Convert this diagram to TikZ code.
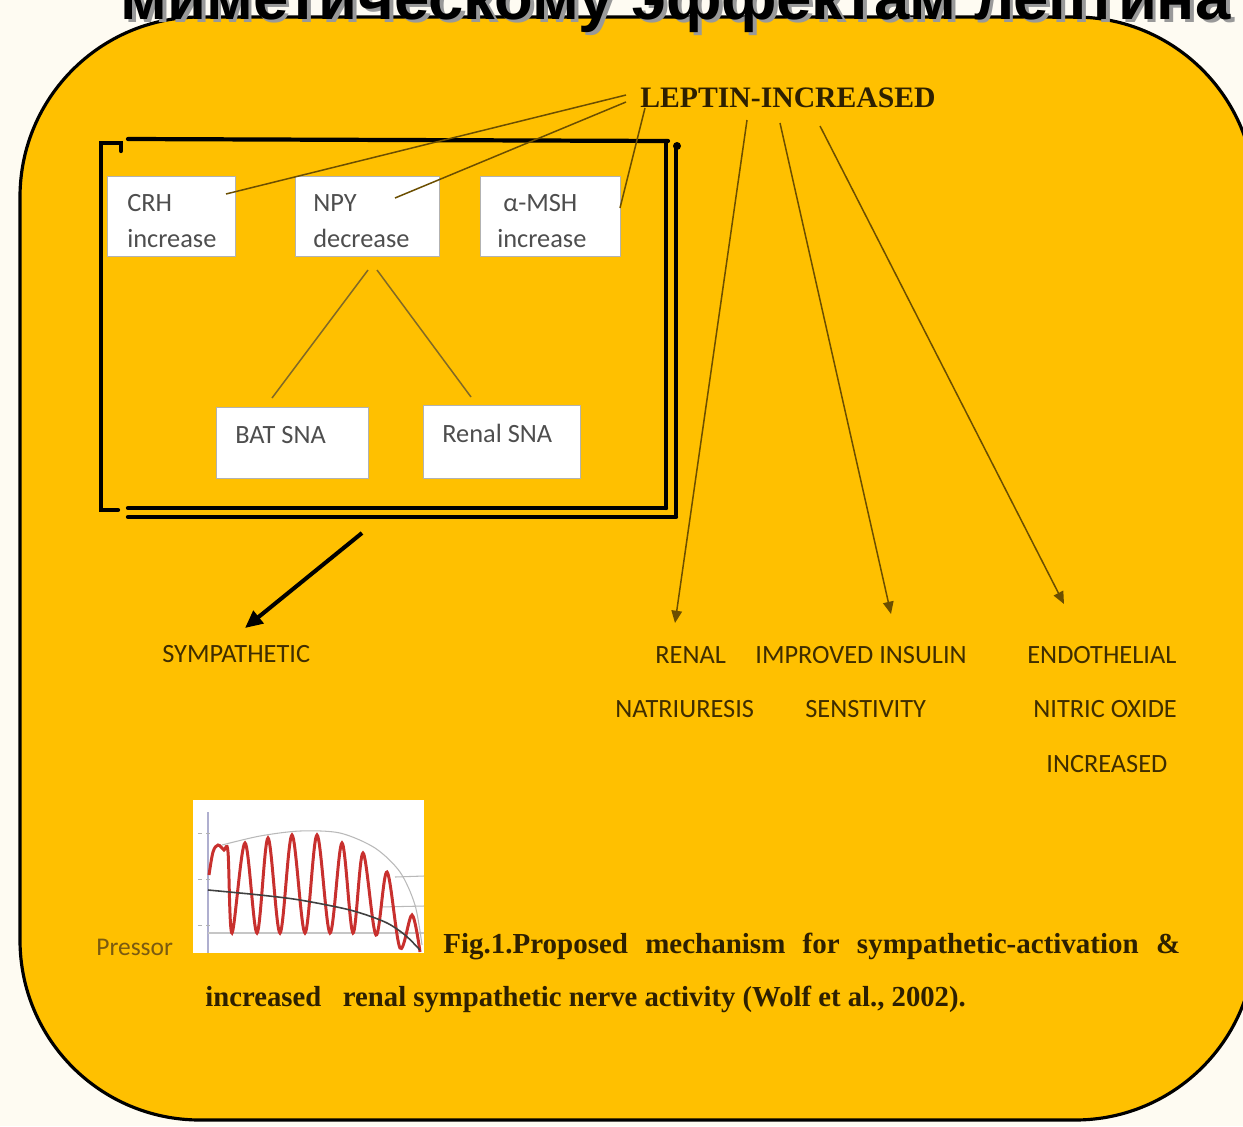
\documentclass[tikz,border=0pt]{standalone}
\usepackage{fontspec}
\setmainfont{Liberation Serif}
\newfontfamily\calib{Carlito}
\newfontfamily\headfont{Liberation Sans}
\usetikzlibrary{arrows.meta,calc}
\definecolor{amber}{HTML}{FFC000}
\definecolor{cream}{HTML}{FEFBF2}
\definecolor{wire}{HTML}{6B4E00}
\definecolor{ink}{HTML}{3F2D00}
\definecolor{capink}{HTML}{2E2000}
\definecolor{boxtext}{HTML}{4E4E4E}
\definecolor{pressink}{HTML}{7A5A10}
\definecolor{plotred}{HTML}{C8302E}
\newcommand{\headline}{\headfont\bfseries миметическому эффектам лептина}
\begin{document}
\begin{tikzpicture}[x=0.02cm,y=-0.02cm,
  mbox/.style={draw=gray!60, line width=0.6pt, fill=white, inner sep=0pt, anchor=north west},
  boxlabel/.style={font=\calib\fontsize{15}{18}\selectfont, text=boxtext, anchor=base west, inner sep=0pt},
  wirel/.style={draw=wire, line width=0.85pt},
  arr/.style={wirel, -{Triangle[length=7pt,width=6pt]}},
  framel/.style={line width=2.4pt, black, line cap=round},
  lbl/.style={font=\calib\fontsize{15}{18}\selectfont, text=ink, anchor=base west, inner sep=0pt},
  serifbold/.style={font=\bfseries\fontsize{16.5}{20}\selectfont, text=capink, anchor=base west, inner sep=0pt}
]
\useasboundingbox (0,0) rectangle (1243,1126);
\begin{scope}
\clip (0,0) rectangle (1243,1126);
% page and rounded panel
\fill[cream] (0,0) rectangle (1243,1126);
\draw[line width=1.8pt, fill=amber, rounded corners=3.6cm] (20,17) rectangle (1255,1120);
% heading with its drop shadow, cut by the top edge
\node[anchor=base west, inner sep=0pt] (head) at (120,19)
  {\resizebox{22.2cm}{!}{\rlap{\raisebox{-0.6pt}{\kern0.6pt\color{black!40}\headline}}\headline}};
\end{scope}

% hand-drawn frame around the hypothalamic box group
\draw[framel] (121,151) -- (121,143) -- (101,143) -- (101,510) -- (118,510);
\draw[framel] (128,139) -- (668,141);
\draw[framel] (666,141) -- (666,508);
\draw[framel] (676,145) -- (676,515);
\fill (677,146) circle (4);
\draw[framel] (128,508) -- (666,508);
\draw[framel] (128,517) -- (676,517);

% boxes
\node[mbox, minimum width=2.56cm, minimum height=1.6cm] (crh) at (107,176) {};
\node[mbox, minimum width=2.88cm, minimum height=1.6cm] (npy) at (295,176) {};
\node[mbox, minimum width=2.80cm, minimum height=1.6cm] (msh) at (480,176) {};
\node[mbox, minimum width=3.04cm, minimum height=1.42cm] (bat) at (216,407) {};
\node[mbox, minimum width=3.14cm, minimum height=1.46cm] (ren) at (423,405) {};

\node[boxlabel] (crhA) at (127,211) {CRH};
\node[boxlabel] (crhB) at (127,247) {increase};
\node[boxlabel] (npyA) at (313,211) {NPY};
\node[boxlabel] (npyB) at (313,247) {decrease};
\node[boxlabel] (mshA) at (503,211) {α-MSH};
\node[boxlabel] (mshB) at (497,247) {increase};
\node[boxlabel] (batA) at (235,443) {BAT SNA};
\node[boxlabel] (renA) at (442,442) {Renal SNA};

% NPY branches
\coordinate (npyL) at (368,270);
\coordinate (npyR) at (377,270);
\coordinate (batTop) at (272,398);
\coordinate (renTop) at (471,397);
\draw[wirel, draw=wire!85] (npyL) -- (batTop);
\draw[wirel, draw=wire!85] (npyR) -- (renTop);

% leptin and its links
\node[serifbold, font=\bfseries\fontsize{16.9}{20}\selectfont] (leptin) at (640,107) {LEPTIN-INCREASED};
\coordinate (lepA) at (626,95);
\coordinate (lepB) at (626,102);
\coordinate (lepC) at (645,108);
\coordinate (crhEnd) at (226,194);
\coordinate (npyEnd) at (395,198);
\coordinate (mshEnd) at (620,208);
\draw[wirel] (lepA) -- (crhEnd);
\draw[wirel] (lepB) -- (npyEnd);
\draw[wirel] (lepC) -- (mshEnd);

\coordinate (lepD) at (747,120);
\coordinate (lepE) at (780,123);
\coordinate (lepF) at (820,126);
\coordinate (tipRenal) at (675,623);
\coordinate (tipIns) at (891,614);
\coordinate (tipEndo) at (1064,604);
\draw[arr] (lepD) -- (tipRenal);
\draw[arr] (lepE) -- (tipIns);
\draw[arr] (lepF) -- (tipEndo);

% sympathetic outflow
\coordinate (symStart) at (362,533);
\coordinate (symTip) at (245,628);
\draw[line width=2.3pt, black, -{Triangle[length=10pt,width=9pt]}] (symStart) -- (symTip);

% outcome labels
\node[lbl] (sym) at (162,662) {SYMPATHETIC};
\node[lbl] (renal1) at (655,663) {RENAL};
\node[lbl] (renal2) at (615,717) {NATRIURESIS};
\node[lbl] (ins1) at (755,663) {IMPROVED INSULIN};
\node[lbl] (ins2) at (805,717) {SENSTIVITY};
\node[lbl] (endo1) at (1027,663) {ENDOTHELIAL};
\node[lbl] (endo2) at (1033,717) {NITRIC OXIDE};
\node[lbl] (endo3) at (1046,772) {INCREASED};

% pressor trace
\node[anchor=base west, inner sep=0pt, font=\calib\fontsize{14.5}{18}\selectfont, text=pressink] (pressor) at (96,955) {Pressor};
\fill[white] (193,800) rectangle (424,953);
\draw[blue!25!gray!50, line width=0.6pt] (208,812) -- (208,953);
\foreach \ty in {833,879,925} {
  \draw[gray!60, line width=0.5pt] (198,\ty) -- (202,\ty);
  \draw[gray!60, line width=0.5pt] (206,\ty) -- (210,\ty);
}
\draw[gray!45, line width=0.6pt] (208,933) -- (424,933);
\draw[gray!55, line width=0.6pt] (395,877) -- (424,876);
\draw[gray!55, line width=0.6pt] (380,907) -- (424,906);
\draw[gray!55, line width=0.6pt] plot[smooth] coordinates {(222,845) (260,836) (300,831) (340,833) (375,848) (400,872) (415,905) (422,945)};
\draw[plotred, line width=1.7pt] plot[smooth, tension=0.55] coordinates {
  (209,875) (213,852) (218,845) (224,850) (228,852) (232,933) (245,843) (257,933)
  (268,838) (280,933) (292,835) (305,933) (317,835) (330,933) (342,843)
  (353,933) (363,853) (376,935) (387,872) (400,948) (412,915) (420,952)};
\draw[black!75, line width=0.9pt] plot[smooth] coordinates {(208,890) (260,895) (300,900) (350,910) (385,922) (405,935) (420,950)};

% caption
\node[serifbold] (cap1) at (443,953)
  {\makebox[14.74cm][s]{Fig.1.Proposed\hfill mechanism\hfill for\hfill sympathetic-activation\hfill\&}};
\node[serifbold] (cap2) at (205,1006)
  {\scalebox{0.99}[1]{increased\hspace{0.44cm}renal sympathetic nerve activity (Wolf et al., 2002).}};
\end{tikzpicture}
\end{document}
